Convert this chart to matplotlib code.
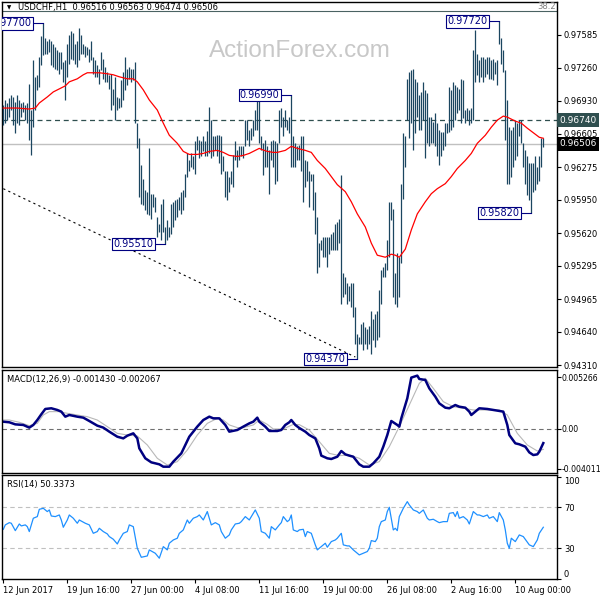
import matplotlib
matplotlib.use("Agg")
import matplotlib.pyplot as plt
import matplotlib.transforms as mtrans

plt.rcParams['font.family'] = ['DejaVu Sans']
plt.rcParams['font.size'] = 6

# ---- price bars (high / low per bar) ----
hi = [
    0.9689, 0.9694, 0.9691, 0.9696, 0.9699, 0.9697, 0.9692, 0.9699, 0.9694, 0.9691,
    0.9692, 0.9689, 0.9691, 0.9710, 0.9684, 0.9734, 0.9717, 0.9719, 0.9737, 0.9757,
    0.9770, 0.9755, 0.9753, 0.9754, 0.9753, 0.9750, 0.9747, 0.9744, 0.9742, 0.9742,
    0.9732, 0.9734, 0.9750, 0.9758, 0.9762, 0.9760, 0.9750, 0.9753, 0.9765, 0.9758,
    0.9750, 0.9748, 0.9747, 0.9745, 0.9753, 0.9737, 0.9734, 0.9729, 0.9725, 0.9742,
    0.9735, 0.9727, 0.9722, 0.9719, 0.9720, 0.9705, 0.9717, 0.9697, 0.9696, 0.9714,
    0.9722, 0.9737, 0.9725, 0.9727, 0.9725, 0.9725, 0.9732, 0.9671, 0.9656, 0.9629,
    0.9616, 0.9605, 0.9603, 0.9646, 0.9601, 0.9601, 0.9598, 0.9578, 0.9571, 0.9591,
    0.9596, 0.9568, 0.9575, 0.9568, 0.9591, 0.9593, 0.9595, 0.9596, 0.9598, 0.9603,
    0.9605, 0.9621, 0.9641, 0.9634, 0.9641, 0.9638, 0.9653, 0.9658, 0.9654, 0.9653,
    0.9658, 0.9653, 0.9663, 0.9687, 0.9674, 0.9658, 0.9658, 0.9659, 0.9659, 0.9658,
    0.9638, 0.9624, 0.9624, 0.9618, 0.9624, 0.9639, 0.9653, 0.9644, 0.9648, 0.9648,
    0.9648, 0.9674, 0.9674, 0.9664, 0.9666, 0.9674, 0.9684, 0.9694, 0.9696, 0.9658,
    0.9651, 0.9654, 0.9648, 0.9644, 0.9653, 0.9654, 0.9653,
    0.9651, 0.9684, 0.9686, 0.9677, 0.9684, 0.9674, 0.9677, 0.9699, 0.9658, 0.9651,
    0.9648, 0.9649, 0.9658, 0.9658, 0.9634, 0.9633, 0.9624, 0.9621, 0.9621, 0.9603,
    0.9578, 0.9552, 0.9555, 0.9558, 0.9558, 0.9558, 0.9558, 0.9561, 0.9563, 0.9571,
    0.9573, 0.9576, 0.9620, 0.9522, 0.9518, 0.9512, 0.9509, 0.9512, 0.9512, 0.9489,
    0.9462, 0.9459, 0.9472, 0.9474, 0.9469, 0.9467, 0.9470, 0.9485, 0.9477, 0.9482,
    0.9485, 0.9505, 0.9525, 0.9528, 0.9532, 0.9555, 0.9593, 0.9593, 0.9586, 0.9522,
    0.9542, 0.9538, 0.9611, 0.9661, 0.9658, 0.9715, 0.9722, 0.9724, 0.9725, 0.9715,
    0.9712, 0.9699, 0.9702, 0.9712, 0.9704, 0.9701, 0.9677, 0.9677, 0.9672, 0.9681,
    0.9671, 0.9664, 0.9662, 0.9662, 0.9671, 0.9671, 0.9707, 0.9704, 0.9712, 0.9709,
    0.9707, 0.9705, 0.9715, 0.9714, 0.9684, 0.9686, 0.9684, 0.9686, 0.9744, 0.9763,
    0.9740, 0.9734, 0.9737, 0.9737, 0.9735, 0.9737, 0.9737, 0.9734, 0.9735, 0.9732,
    0.9734, 0.9772, 0.9755, 0.9744, 0.9724, 0.9694, 0.9667, 0.9664, 0.9667, 0.9674,
    0.9671, 0.9674, 0.9674, 0.9651, 0.9644, 0.9638, 0.9631, 0.9631, 0.9631, 0.9638,
    0.9628, 0.9638, 0.9656, 0.9656,
]
lo = [
    0.9669, 0.9671, 0.9674, 0.9677, 0.9684, 0.9669, 0.9661, 0.9671, 0.9669, 0.9677,
    0.9682, 0.9674, 0.9671, 0.9654, 0.9639, 0.9667, 0.9684, 0.9704, 0.9707, 0.9729,
    0.9739, 0.9740, 0.9740, 0.9742, 0.9729, 0.9727, 0.9725, 0.9724, 0.9720, 0.9725,
    0.9712, 0.9694, 0.9717, 0.9730, 0.9735, 0.9734, 0.9730, 0.9727, 0.9734, 0.9740,
    0.9740, 0.9737, 0.9739, 0.9732, 0.9734, 0.9720, 0.9717, 0.9717, 0.9710, 0.9724,
    0.9715, 0.9712, 0.9712, 0.9705, 0.9684, 0.9689, 0.9674, 0.9684, 0.9686, 0.9687,
    0.9694, 0.9704, 0.9709, 0.9715, 0.9712, 0.9714, 0.9671, 0.9646, 0.9598, 0.9591,
    0.9590, 0.9585, 0.9581, 0.9580, 0.9576, 0.9588, 0.9583, 0.9558, 0.9563, 0.9555,
    0.9563, 0.9551, 0.9555, 0.9558, 0.9561, 0.9568, 0.9575, 0.9578, 0.9585, 0.9581,
    0.9585, 0.9598, 0.9618, 0.9624, 0.9628, 0.9626, 0.9621, 0.9644, 0.9636, 0.9638,
    0.9643, 0.9638, 0.9638, 0.9641, 0.9636, 0.9638, 0.9644, 0.9638, 0.9631, 0.9621,
    0.9624, 0.9598, 0.9595, 0.9603, 0.9611, 0.9608, 0.9634, 0.9628, 0.9634, 0.9638,
    0.9636, 0.9648, 0.9654, 0.9648, 0.9654, 0.9658, 0.9664, 0.9664, 0.9651, 0.9644,
    0.9620, 0.9628, 0.9628, 0.9601, 0.9634, 0.9628, 0.9611,
    0.9614, 0.9651, 0.9667, 0.9658, 0.9667, 0.9664, 0.9661, 0.9628, 0.9628, 0.9628,
    0.9634, 0.9634, 0.9624, 0.9593, 0.9608, 0.9614, 0.9588, 0.9614, 0.9585, 0.9561,
    0.9522, 0.9528, 0.9545, 0.9538, 0.9538, 0.9528, 0.9541, 0.9545, 0.9545, 0.9545,
    0.9545, 0.9552, 0.9492, 0.9499, 0.9502, 0.9492, 0.9495, 0.9489, 0.9479, 0.9452,
    0.9437, 0.9452, 0.9452, 0.9446, 0.9452, 0.9447, 0.9452, 0.9442, 0.9456, 0.9449,
    0.9456, 0.9459, 0.9492, 0.9518, 0.9518, 0.9525, 0.9538, 0.9575, 0.9499, 0.9492,
    0.9489, 0.9499, 0.9532, 0.9596, 0.9628, 0.9674, 0.9656, 0.9671, 0.9644, 0.9661,
    0.9677, 0.9664, 0.9664, 0.9674, 0.9636, 0.9651, 0.9648, 0.9651, 0.9651, 0.9648,
    0.9638, 0.9629, 0.9638, 0.9644, 0.9648, 0.9661, 0.9662, 0.9664, 0.9667, 0.9674,
    0.9681, 0.9684, 0.9671, 0.9676, 0.9671, 0.9674, 0.9669, 0.9671, 0.9674, 0.9712,
    0.9719, 0.9712, 0.9717, 0.9712, 0.9717, 0.9720, 0.9715, 0.9715, 0.9714, 0.9720,
    0.9709, 0.9750, 0.9730, 0.9722, 0.9654, 0.9611, 0.9611, 0.9618, 0.9628, 0.9634,
    0.9638, 0.9658, 0.9651, 0.9628, 0.9611, 0.9600, 0.9595, 0.9582, 0.9603, 0.9605,
    0.9611, 0.9614, 0.9628, 0.9647,
]
bars = list(range(len(hi)))

# moving average (red), sampled at bar index
ma_i = [0, 7, 13, 16, 18, 22, 25, 28, 31, 33, 37, 40, 42, 45, 48, 52, 55, 58, 62, 65,
        67, 70, 73, 77, 80, 83, 87, 90, 93, 97, 100, 103, 107, 110, 113, 117, 120, 123,
        126, 128, 129, 132, 135, 137, 141, 144, 147, 151, 154, 157, 161, 164, 167, 171,
        174, 177, 181, 184, 187, 191, 194, 196, 198, 201, 204, 207, 211, 214, 217, 221,
        224, 227, 231, 234, 237, 241, 244, 247, 250, 252, 256, 259, 262, 266, 268, 270]
ma_v = [0.9686, 0.9686, 0.9685, 0.9686, 0.9691, 0.9697, 0.9702, 0.9705, 0.9708, 0.9712,
        0.9715, 0.9719, 0.9721, 0.9721, 0.9721, 0.9720, 0.9719, 0.9717, 0.9715, 0.9715,
        0.9712, 0.9704, 0.9694, 0.9684, 0.9671, 0.9659, 0.9651, 0.9643, 0.9640, 0.9640,
        0.9641, 0.9643, 0.9644, 0.9642, 0.9639, 0.9638, 0.9639, 0.9641, 0.9644, 0.9646,
        0.9645, 0.9643, 0.9642, 0.9642, 0.9644, 0.9648, 0.9646, 0.9644, 0.9642, 0.9634,
        0.9626, 0.9618, 0.9610, 0.9603, 0.9593, 0.9581, 0.9568, 0.9552, 0.9540, 0.9538,
        0.9541, 0.9540, 0.9538, 0.9546, 0.9565, 0.9581, 0.9593, 0.9601, 0.9606, 0.9611,
        0.9618, 0.9626, 0.9634, 0.9641, 0.9651, 0.9659, 0.9667, 0.9674, 0.9678, 0.9677,
        0.9673, 0.9671, 0.9666, 0.9660, 0.9657, 0.9656]

# dotted trend line anchors (bar, price)
trend_i = [0, 176]
trend_p = [0.9606, 0.9439]

# swing labels (bar, price, text)
swings = [(20, 0.9770, '0.97700'), (81, 0.9551, '0.95510'), (144, 0.9699, '0.96990'),
          (177, 0.9437, '0.94370'), (248, 0.9772, '0.97720'), (264, 0.9582, '0.95820')]

price_ticks = [0.97585, 0.97260, 0.96930, 0.96605, 0.96275, 0.95950,
               0.95620, 0.95295, 0.94965, 0.94640, 0.94310]
level_dash = 0.96740
last_close = 0.96506
fib_level = 0.97823

# MACD main (navy) and signal (silver)
macd_i = [0, 3, 6, 10, 13, 15, 17, 19, 21, 24, 27, 29, 31, 33, 37, 40, 43, 47, 50, 53,
          57, 60, 62, 65, 67, 68, 71, 74, 78, 80, 83, 85, 89, 93, 97, 100, 103, 105, 108,
          111, 113, 117, 120, 123, 125, 127, 128, 131, 133, 137, 139, 141, 143, 144, 146,
          148, 151, 153, 156, 158, 159, 162, 164, 167, 169, 171, 173, 175, 178, 180, 183,
          185, 188, 190, 192, 194, 197, 198, 199, 202, 204, 207, 208, 211, 213, 216, 218,
          221, 223, 226, 228, 231, 233, 234, 236, 238, 242, 245, 248, 250, 252, 253, 256,
          258, 261, 263, 265, 267, 268, 270]
macd_v = [0.00074, 0.00068, 0.00047, 0.00041, 0.00014, 0.00041, 0.00091, 0.00149, 0.00203,
          0.00210, 0.00193, 0.00176, 0.00125, 0.00142, 0.00125, 0.00115, 0.00081, 0.00034,
          0.00014, -0.00027, -0.00078, -0.00095, -0.00068, -0.00044, -0.00095, -0.00196,
          -0.00297, -0.00338, -0.00358, -0.00382, -0.00382, -0.00331, -0.00247, -0.00078,
          0.00024, 0.00091, 0.00125, 0.00108, 0.00108, 0.00041, -0.00027, -0.00010,
          0.00024, 0.00057, 0.00074, 0.00115, 0.00074, 0.00024, -0.00020, -0.00020,
          -0.00010, 0.00041, 0.00068, 0.00091, 0.00041, 0.00010, -0.00027, -0.00061,
          -0.00095, -0.00196, -0.00270, -0.00297, -0.00304, -0.00281, -0.00223, -0.00257,
          -0.00270, -0.00281, -0.00358, -0.00382, -0.00382, -0.00348, -0.00281, -0.00179,
          -0.00061, 0.00081, 0.00041, 0.00024, 0.00108, 0.00311, 0.00521, 0.00541, 0.00507,
          0.00497, 0.00412, 0.00328, 0.00260, 0.00216, 0.00210, 0.00243, 0.00226, 0.00216,
          0.00176, 0.00142, 0.00176, 0.00210, 0.00203, 0.00193, 0.00183, 0.00176, 0.00041,
          -0.00061, -0.00145, -0.00155, -0.00179, -0.00237, -0.00264, -0.00257, -0.00230,
          -0.00143]
sig_i = [0, 3, 8, 13, 17, 20, 23, 28, 32, 37, 42, 47, 52, 57, 62, 67, 72, 77, 82, 87,
         92, 97, 102, 107, 110, 113, 117, 120, 125, 128, 132, 135, 140, 145, 148, 153,
         158, 163, 168, 173, 178, 183, 188, 193, 198, 203, 208, 211, 215, 220, 225, 230,
         235, 242, 248, 252, 257, 262, 267, 270]
sig_v = [0.00091, 0.00091, 0.00068, 0.00034, 0.00057, 0.00142, 0.00176, 0.00176, 0.00159,
         0.00142, 0.00125, 0.00091, 0.00024, -0.00044, -0.00061, -0.00071, -0.00162,
         -0.00297, -0.00365, -0.00331, -0.00213, -0.00061, 0.00057, 0.00108, 0.00091,
         0.00041, 0.00014, 0.00014, 0.00041, 0.00091, 0.00047, 0.0, 0.0, 0.00047, 0.00044,
         -0.00010, -0.00128, -0.00247, -0.00270, -0.00264, -0.00297, -0.00365, -0.00331,
         -0.00179, 0.00024, 0.00243, 0.00463, 0.00514, 0.00412, 0.00277, 0.00226, 0.00210,
         0.00193, 0.00193, 0.00193, 0.00142, -0.00044, -0.00162, -0.00223, -0.00207]
macd_ticks = [0.005266, 0.0, -0.004011]
macd_ticklabels = ['0.005266', '0.00', '-0.004011']

# RSI(14)
rsi_i = [0, 1, 3, 4, 6, 8, 9, 11, 12, 13, 15, 17, 18, 20, 22, 23, 24, 26, 28, 29, 30, 32,
         33, 35, 37, 38, 41, 43, 45, 47, 48, 50, 52, 53, 55, 57, 58, 60, 62, 63, 65, 67,
         69, 72, 73, 76, 78, 80, 82, 83, 85, 87, 88, 90, 92, 93, 95, 97, 98, 100, 102,
         104, 106, 108, 109, 111, 113, 114, 116, 118, 119, 121, 123, 124, 126, 128, 129,
         131, 133, 134, 136, 138, 139, 140, 142, 143, 144, 145, 147, 148,
         150, 151, 152, 154, 156, 157, 159, 161, 162, 164, 166, 167, 169, 170, 172, 173,
         175, 177, 178, 180, 182, 183, 184, 186, 187, 188, 189, 191, 192, 193, 195, 196,
         197, 198, 200, 202, 203, 205, 207, 208, 210, 212, 213, 215, 217, 218, 220, 222,
         223, 225, 226, 227, 228, 230, 232, 233, 235, 237, 238, 240, 242, 243, 245, 247,
         248, 250, 251, 252, 253, 254, 256, 258, 260, 263, 265, 267, 268, 270]
rsi_v = [48.5, 52.8, 55.0, 54.4, 47.2, 53.7, 51.8, 52.8, 51.1, 46.3, 59.3, 60.9, 68.0,
         69.0, 65.8, 67.4, 61.5, 60.9, 62.5, 57.6, 50.5, 57.6, 62.5, 59.3, 54.4, 57.6,
         54.4, 52.8, 44.6, 46.3, 49.5, 46.3, 44.0, 41.4, 38.8, 34.2, 38.1, 44.6, 46.3,
         52.8, 51.1, 30.0, 21.2, 22.5, 28.4, 25.1, 20.3, 31.6, 28.4, 34.9, 38.1, 39.8,
         44.6, 47.9, 57.6, 54.4, 59.3, 60.9, 62.5, 57.6, 65.8, 52.8, 55.0, 52.8, 46.3,
         39.8, 43.0, 47.9, 53.7, 54.4, 56.0, 60.9, 57.6, 60.9, 67.4, 59.3, 46.3, 44.6,
         39.8, 51.1, 47.9, 52.8, 55.0, 60.9, 56.0, 57.6, 62.5, 47.9, 46.3, 47.9,
         48.5, 41.4, 46.3, 44.6, 33.3, 28.4, 31.6, 34.9, 31.0, 36.5, 38.1, 39.8, 44.6,
         33.3, 32.3, 32.3, 28.4, 25.1, 23.5, 25.1, 26.8, 30.0, 37.5, 36.5, 39.8, 51.1,
         56.0, 57.6, 65.8, 70.0, 47.9, 49.5, 47.2, 60.9, 69.0, 75.5, 72.3, 67.4, 65.8,
         64.1, 67.4, 59.3, 57.6, 58.3, 56.0, 55.0, 56.0, 56.0, 64.1, 64.8, 60.9, 65.8,
         59.3, 60.9, 57.6, 53.7, 65.8, 62.5, 62.5, 60.9, 62.5, 59.3, 60.9, 56.0, 64.8,
         57.6, 47.9, 34.9, 30.0, 39.8, 36.5, 43.0, 41.4, 33.3, 31.6, 38.1, 44.6, 50.5]

date_ticks = [0, 32, 64, 96, 128, 160, 192, 224, 256]
date_labels = ['12 Jun 2017', '19 Jun 16:00', '27 Jun 00:00', '4 Jul 08:00', '11 Jul 16:00',
               '19 Jul 00:00', '26 Jul 08:00', '2 Aug 16:00', '10 Aug 00:00']

bar_col = '#1b4660'
navy = '#000080'
xlim = (-0.65, 276.85)

fig = plt.figure(figsize=(6, 6), dpi=100)
ax = fig.add_axes([2 / 600, 1 - 367 / 600, 555 / 600, 365 / 600])
ax2 = fig.add_axes([2 / 600, 1 - 473 / 600, 555 / 600, 103 / 600])
ax3 = fig.add_axes([2 / 600, 1 - 579 / 600, 555 / 600, 104 / 600])

for a in (ax, ax2, ax3):
    a.set_xlim(*xlim)
    a.yaxis.tick_right()
    a.tick_params(axis='y', length=3, width=0.8, pad=2, labelsize=6)
    for s in a.spines.values():
        s.set_linewidth(1)
    a.set_xticks([])

# main price panel
ax.set_ylim(0.94291, 0.97912)
ax.text(0.537, 0.866, 'ActionForex.com', transform=ax.transAxes, ha='center', va='center',
        fontsize=17.5, color='#c8c8c8', family='Liberation Sans', zorder=0)
ax.axhline(fib_level, color='#4a6262', lw=0.8, zorder=1)
ax.text(0.998, fib_level, '38.2', transform=mtrans.blended_transform_factory(ax.transAxes, ax.transData),
        ha='right', va='bottom', color='#808080', fontsize=6)
ax.axhline(level_dash, color='#2f4f4f', lw=0.9, dashes=(4, 3), zorder=1)
ax.axhline(last_close, color='#c0c0c0', lw=1, zorder=1)
ax.plot(trend_i, trend_p, color='black', lw=0.8, dashes=(2, 3), zorder=2)
ax.vlines(bars, lo, hi, color=bar_col, lw=0.9, zorder=3)
ax.plot(ma_i, ma_v, color='red', lw=0.9, zorder=4)

for b, p, t in swings:
    ax.plot([b - 5, b], [p, p], color=navy, lw=0.8, zorder=5)
    ax.text(b - 5.9, p, t, ha='right', va='center', color=navy, fontsize=7, zorder=6,
            bbox=dict(boxstyle='square,pad=0.12', fc='white', ec=navy, lw=0.8), clip_on=True)

ax.set_yticks(price_ticks)
ax.set_yticklabels(['%.5f' % t for t in price_ticks])
bt = mtrans.blended_transform_factory(ax.transAxes, ax.transData)
ax.text(1.004, level_dash, '%.5f' % level_dash, transform=bt, ha='left', va='center', color='white',
        fontsize=6.5, bbox=dict(boxstyle='square,pad=0.3', fc='#2f4f4f', ec='none'), clip_on=False, zorder=10)
ax.text(1.004, last_close, '%.5f' % last_close, transform=bt, ha='left', va='center', color='white',
        fontsize=6.5, bbox=dict(boxstyle='square,pad=0.3', fc='black', ec='none'), clip_on=False, zorder=10)
ax.text(0.009, 0.984, '\u25bc', transform=ax.transAxes, ha='left', va='center', fontsize=4)
ax.text(0.029, 0.984, 'USDCHF,H1  0.96516 0.96563 0.96474 0.96506', transform=ax.transAxes,
        ha='left', va='center', fontsize=6)

# MACD panel
ax2.set_ylim(-0.00446, 0.00598)
ax2.axhline(0, color='#707070', lw=0.8, dashes=(4, 3))
ax2.plot(sig_i, sig_v, color='#b8b8b8', lw=0.8)
ax2.plot(macd_i, macd_v, color=navy, lw=1.8)
ax2.set_yticks(macd_ticks)
ax2.set_yticklabels(macd_ticklabels)
ax2.tick_params(axis='y', labelsize=5.6, pad=0.3)
ax2.text(0.009, 0.903, 'MACD(12,26,9) -0.001430 -0.002067', transform=ax2.transAxes,
         ha='left', va='center', fontsize=6)

# RSI panel
ax3.set_ylim(0, 101.5)
ax3.axhline(70, color='#c0c0c0', lw=0.8, dashes=(4, 3))
ax3.axhline(30, color='#c0c0c0', lw=0.8, dashes=(4, 3))
ax3.plot(rsi_i, rsi_v, color='#1e90ff', lw=0.9)
ax3.set_yticks([100, 70, 30, 0])
ax3.set_yticklabels(['100', '70', '30', '0'])
for tk in ax3.yaxis.get_major_ticks():
    if tk.get_loc() == 100:
        tk.label2.set_va('top')
    elif tk.get_loc() == 0:
        tk.label2.set_va('bottom')
ax3.text(0.009, 0.904, 'RSI(14) 50.3373', transform=ax3.transAxes, ha='left', va='center', fontsize=6)
ax3.set_xticks(date_ticks)
ax3.set_xticklabels(date_labels, ha='left')
ax3.tick_params(axis='x', length=3, width=0.8, pad=2, labelsize=6)

fig.savefig('out.png', dpi=100, facecolor='white')
